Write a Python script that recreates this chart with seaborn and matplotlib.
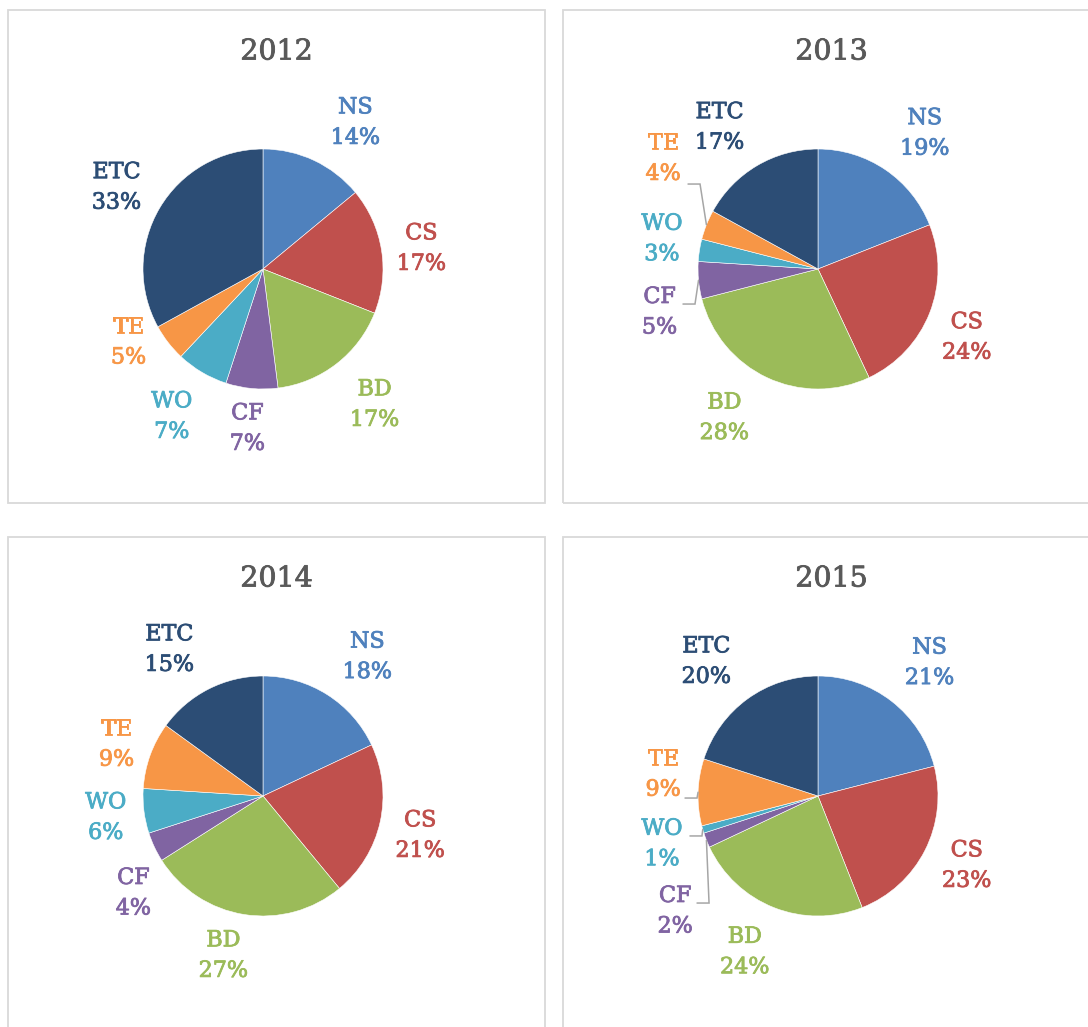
import numpy as np
import seaborn as sns
import matplotlib.pyplot as plt
import matplotlib.patheffects as pe
from matplotlib.patches import Rectangle

categories = ["NS", "CS", "BD", "CF", "WO", "TE", "ETC"]
years = ["2012", "2013", "2014", "2015"]
share_2012 = [14, 17, 17, 7, 7, 5, 33]
share_2013 = [19, 24, 28, 5, 3, 4, 17]
share_2014 = [18, 21, 27, 4, 6, 9, 15]
share_2015 = [21, 23, 24, 2, 1, 9, 20]
shares = {"2012": share_2012, "2013": share_2013, "2014": share_2014, "2015": share_2015}

# label centres in units of pie radius (x right, y up)
label_pos = {
    "2012": [(0.77, 1.22), (1.32, 0.17), (0.93, -1.13), (-0.13, -1.33),
             (-0.76, -1.23), (-1.12, -0.61), (-1.22, 0.68)],
    "2013": [(0.89, 1.13), (1.24, -0.57), (-0.78, -1.24), (-1.32, -0.36),
             (-1.30, 0.25), (-1.29, 0.92), (-0.82, 1.18)],
    "2014": [(0.87, 1.16), (1.31, -0.33), (-0.33, -1.33), (-1.08, -0.81),
             (-1.31, -0.18), (-1.22, 0.43), (-0.78, 1.22)],
    "2015": [(0.93, 1.11), (1.24, -0.58), (-0.61, -1.30), (-1.19, -0.96),
             (-1.30, -0.40), (-1.29, 0.18), (-0.93, 1.12)],
}
# leader line start points (radius units) for the small slices
leaders = {
    "2013": {"TE": (-1.083, 0.708), "CF": (-1.125, -0.292)},
    "2015": {"TE": (-1.108, -0.017), "WO": (-1.067, -0.333), "CF": (-1.008, -0.892)},
}

colors = sns.color_palette(["#4F81BD", "#C0504D", "#9BBB59", "#8064A2",
                            "#4BACC6", "#F79646", "#2C4D75"])

sns.set_theme(style="white")
plt.rcParams['font.family'] = ['DejaVu Serif']

W, H = 1088, 1027
fig = plt.figure(figsize=(W / 100, H / 100), dpi=100)
fig.patch.set_facecolor("white")

panel_w, panel_h = 537, 493
panel_origin = {"2012": (8, 10), "2013": (563, 10), "2014": (8, 537), "2015": (563, 537)}
R = 120

for year in years:
    px, py = panel_origin[year]
    fig.patches.append(Rectangle((px / W, 1 - (py + panel_h) / H), panel_w / W, panel_h / H,
                                 transform=fig.transFigure, fill=False,
                                 edgecolor="#D9D9D9", linewidth=1.3))
    fig.text((px + panel_w / 2) / W, 1 - (py + 42) / H, year, ha="center", va="center",
             fontsize=20.5, color="#595959",
             path_effects=[pe.withStroke(linewidth=0.6, foreground="#595959")])

    cx, cy = px + 255, py + 259
    ax = fig.add_axes([(cx - 2 * R) / W, 1 - (cy + 2 * R) / H, 4 * R / W, 4 * R / H])
    vals = shares[year]
    ax.pie(vals, colors=colors, startangle=90, counterclock=False, radius=1,
           wedgeprops=dict(edgecolor="white", linewidth=0.4))
    ax.set_xlim(-2, 2)
    ax.set_ylim(-2, 2)
    ax.set_aspect("equal")
    ax.axis("off")

    total = float(sum(vals))
    cum = np.cumsum([0] + vals[:-1]) / total
    for i, cat in enumerate(categories):
        lx, ly = label_pos[year][i]
        ax.text(lx, ly, f"{cat}\n{vals[i] / total * 100:.0f}%", ha="center", va="center",
                fontsize=16, color=colors[i], linespacing=1.5, clip_on=False,
                path_effects=[pe.withStroke(linewidth=0.6, foreground=colors[i])])
        if cat in leaders.get(year, {}):
            sx, sy = leaders[year][cat]
            mid = cum[i] + vals[i] / total / 2
            th = np.deg2rad(90 - 360 * mid)
            ex, ey = np.cos(th), np.sin(th)
            ax.plot([sx, sx + 0.1, ex], [sy, sy, ey], color="#A6A6A6", lw=1.1,
                    clip_on=False, solid_joinstyle="miter")

fig.savefig("out.png", dpi=100, facecolor="white")
